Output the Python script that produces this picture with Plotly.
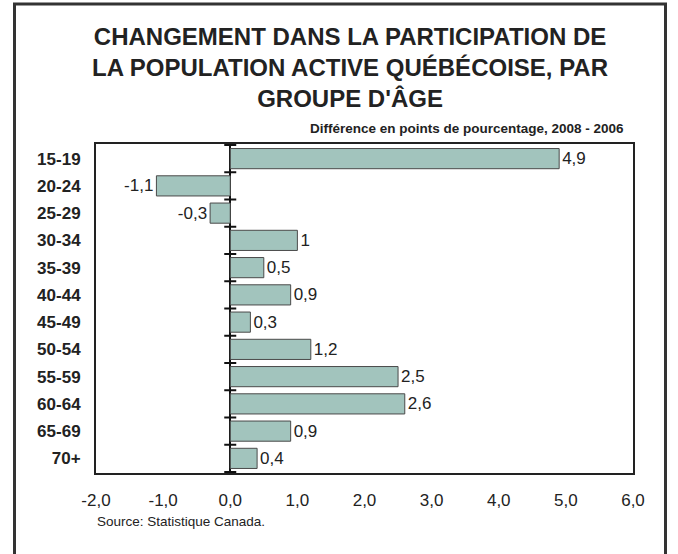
import plotly.graph_objects as go

categories = ["15-19", "20-24", "25-29", "30-34", "35-39", "40-44",
              "45-49", "50-54", "55-59", "60-64", "65-69", "70+"]
values = [4.9, -1.1, -0.3, 1.0, 0.5, 0.9, 0.3, 1.2, 2.5, 2.6, 0.9, 0.4]
value_labels = ["4,9", "-1,1", "-0,3", "1", "0,5", "0,9", "0,3", "1,2", "2,5", "2,6", "0,9", "0,4"]
x_ticks = [-2, -1, 0, 1, 2, 3, 4, 5, 6]
x_tick_labels = ["-2,0", "-1,0", "0,0", "1,0", "2,0", "3,0", "4,0", "5,0", "6,0"]

title_text = "CHANGEMENT DANS LA PARTICIPATION DE<br>LA POPULATION ACTIVE QUÉBÉCOISE, PAR<br>GROUPE D'ÂGE"
subtitle_text = "Différence en points de pourcentage, 2008 - 2006"
source_text = "Source: Statistique Canada."

FONT = "Liberation Sans, Arial, sans-serif"
W, H = 678, 554
L, R, T, B = 96, 45, 144, 81
pw, ph = W - L - R, H - T - B

def px_x(p):
    return (p - L) / pw

def px_y(p):
    return (H - B - p) / ph

fig = go.Figure()
fig.add_trace(go.Bar(
    x=values, y=categories, orientation="h",
    marker=dict(color="#A2C4BD", line=dict(color="#4a4a4a", width=1)),
    width=0.74,
    text=value_labels, textposition="outside",
    textfont=dict(family=FONT, size=17, color="#222"),
    cliponaxis=False, hoverinfo="skip",
))

shapes = []
for i in range(len(categories) + 1):
    shapes.append(dict(type="line", xref="x", yref="y", xsizemode="pixel", xanchor=0,
                       x0=-6, x1=6, y0=i - 0.5, y1=i - 0.5,
                       line=dict(color="#111", width=2)))
shapes.append(dict(type="rect", xref="paper", yref="paper",
                   x0=px_x(14.5), x1=px_x(665.5), y0=px_y(600), y1=px_y(4),
                   line=dict(color="#333", width=3), fillcolor="rgba(0,0,0,0)"))

fig.update_layout(
    width=W, height=H,
    margin=dict(l=L, r=R, t=T, b=B),
    paper_bgcolor="white", plot_bgcolor="white",
    showlegend=False,
    font=dict(family=FONT, color="#222"),
    xaxis=dict(range=[-2, 6], tickvals=x_ticks, ticktext=x_tick_labels,
               showgrid=False, zeroline=True, zerolinecolor="#111", zerolinewidth=2,
               showline=True, mirror=True, linecolor="#222", linewidth=2,
               ticks="", ticklabelstandoff=11,
               tickfont=dict(family=FONT, size=17, color="#222"), fixedrange=True),
    yaxis=dict(autorange="reversed", showgrid=False,
               showline=True, mirror=True, linecolor="#222", linewidth=2,
               ticks="", ticklabelstandoff=10,
               tickfont=dict(family=FONT, size=17, color="#222", weight="bold"), fixedrange=True),
    shapes=shapes,
    annotations=[
        dict(text="<b>" + title_text + "</b>", xref="paper", yref="paper",
             x=px_x(350), y=px_y(67), xanchor="center", yanchor="middle", align="center",
             showarrow=False, font=dict(family=FONT, size=24, color="#222")),
        dict(text="<b>" + subtitle_text + "</b>", xref="paper", yref="paper",
             x=px_x(626), y=px_y(128), xanchor="right", yanchor="middle",
             showarrow=False, font=dict(family=FONT, size=13.5, color="#222")),
        dict(text=source_text, xref="paper", yref="paper",
             x=px_x(95), y=px_y(521), xanchor="left", yanchor="middle",
             showarrow=False, font=dict(family=FONT, size=13.5, color="#222")),
    ],
)

fig.write_html("out.html", config={"displayModeBar": False},
               post_script="document.body.style.margin='0';document.body.style.overflow='hidden';")
